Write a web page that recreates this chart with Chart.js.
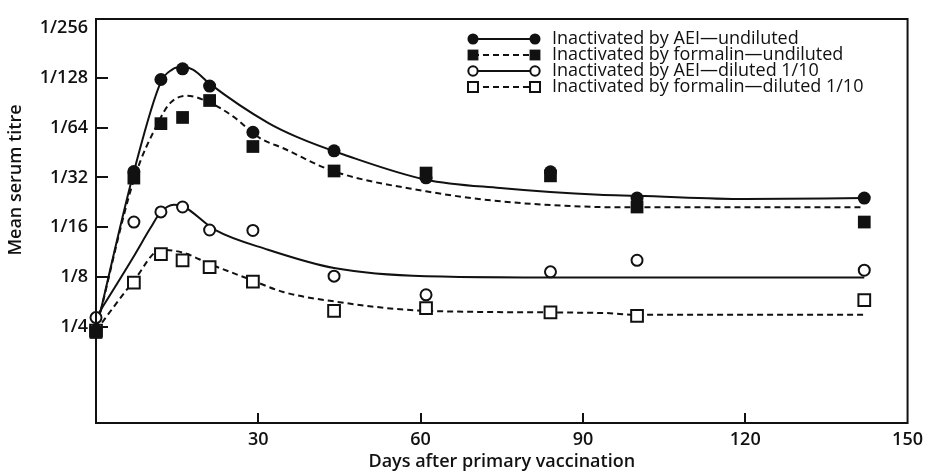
<!DOCTYPE html>
<html>
<head>
<meta charset="utf-8">
<title>Mean serum titre after primary vaccination</title>
<script src="https://cdn.jsdelivr.net/npm/chart.js@4.4.1/dist/chart.umd.min.js"></script>
<style>
  html, body { margin: 0; padding: 0; background: #fff; }
  #chart { display: block; }
</style>
</head>
<body>
<canvas id="chart" width="929" height="475"></canvas>
<script>
const days = [0, 7, 12, 16, 21, 29, 44, 61, 84, 100, 142];
const aeiUndiluted = [3.8, 34.7, 125, 145, 114, 60, 46.3, 31.8, 34.6, 24, 24];
const formalinUndiluted = [3.7, 31.7, 67.6, 73.7, 93.3, 49.2, 35, 34, 32.7, 21.2, 17.2];
const aeiDiluted = [4.55, 17.2, 19.8, 21.2, 15.4, 15.3, 8.1, 6.25, 8.6, 10.1, 8.8];
const formalinDiluted = [3.8, 7.4, 11, 10.1, 9.2, 7.5, 5.0, 5.2, 4.9, 4.66, 5.8];

// Hand-drawn trend curves of the original figure
const aeiUndilutedCurveDays = [0, 7, 12, 14, 16, 18, 21, 31.8, 37, 46, 61, 74.7, 93, 100, 120, 142];
const aeiUndilutedCurve = [3.8, 34.6, 121, 143, 149, 143, 118, 68.3, 56.4, 43.7, 31, 27.6, 25.1, 24.8, 23.7, 24];
const formalinUndilutedCurveDays = [0, 7, 11.6, 13.7, 16.8, 21, 25.4, 30.3, 34.6, 44, 61, 75, 93, 100, 142];
const formalinUndilutedCurve = [3.8, 31, 69.7, 90, 99.7, 90.7, 74.5, 55.3, 48, 34.8, 26.4, 22.9, 21.2, 21.1, 21.1];
const aeiDilutedCurveDays = [0, 7, 10, 12, 14.4, 16, 22, 31.8, 44, 61, 94, 120, 142];
const aeiDilutedCurve = [4.55, 10.7, 15.7, 19.8, 21.9, 21.5, 15.4, 11.7, 9.07, 8.1, 7.94, 7.95, 7.95];
const formalinDilutedCurveDays = [0, 7, 12, 16.2, 21, 28.2, 34.6, 44, 61, 94, 100, 142];
const formalinDilutedCurve = [3.8, 7.6, 11.7, 11.2, 9.6, 7.8, 6.5, 5.7, 5.0, 4.85, 4.73, 4.73];

// Axis ticks
const titreTicks = [4, 8, 16, 32, 64, 128, 256];
const titreLabels = ['1/4', '1/8', '1/16', '1/32', '1/64', '1/128', '1/256'];
const dayTicks = [30, 60, 90, 120, 150];

const legendLabels = [
    'Inactivated by AEI\u2014undiluted',
    'Inactivated by formalin\u2014undiluted',
    'Inactivated by AEI\u2014diluted 1/10',
    'Inactivated by formalin\u2014diluted 1/10'
];

const ink = '#111';
const fontFamily = '"Open Sans", "DejaVu Sans", sans-serif';

// marker and line style per series (same order as legendLabels)
const seriesStyles = [
    { pointStyle: 'circle', radius: 6.5, fill: ink, border: 0, dash: [] },
    { pointStyle: 'rect', radius: 9, fill: ink, border: 0, dash: [6, 4] },
    { pointStyle: 'circle', radius: 5.5, fill: '#fff', border: 2, dash: [] },
    { pointStyle: 'rect', radius: 8.3, fill: '#fff', border: 2, dash: [6, 4] }
];

function toXY(xs, ys) {
    return xs.map((x, i) => ({ x: x, y: ys[i] }));
}

function pointSet(values, style) {
    return {
        data: toXY(days, values),
        showLine: false,
        pointStyle: style.pointStyle,
        pointRadius: style.radius,
        pointBackgroundColor: style.fill,
        pointBorderColor: ink,
        pointBorderWidth: style.border,
        order: 0,
        clip: false
    };
}

function curveSet(xs, ys, style) {
    return {
        data: toXY(xs, ys),
        showLine: true,
        borderColor: ink,
        borderWidth: 2,
        borderDash: style.dash,
        pointRadius: 0,
        cubicInterpolationMode: 'monotone',
        order: 1,
        clip: false
    };
}

// Frame, inward tick marks, rotated y title and the symbol key
const decorations = {
    id: 'decorations',
    afterDraw(chart) {
        const ctx = chart.ctx;
        const area = chart.chartArea;
        const xs = chart.scales.x;
        const ys = chart.scales.y;
        ctx.save();
        ctx.strokeStyle = ink;
        ctx.lineWidth = 2;
        ctx.setLineDash([]);
        ctx.strokeRect(area.left, area.top, area.right - area.left, area.bottom - area.top);

        // inward ticks
        ctx.beginPath();
        titreTicks.slice(0, -1).forEach(v => {
            const y = Math.round(ys.getPixelForValue(v));
            ctx.moveTo(area.left, y);
            ctx.lineTo(area.left + 12, y);
        });
        dayTicks.slice(0, -1).forEach(v => {
            const x = Math.round(xs.getPixelForValue(v));
            ctx.moveTo(x, area.bottom);
            ctx.lineTo(x, area.bottom - 10);
        });
        ctx.stroke();

        // y axis title
        ctx.save();
        ctx.translate(16, 180);
        ctx.rotate(-Math.PI / 2);
        ctx.fillStyle = ink;
        ctx.font = '600 18px ' + fontFamily;
        ctx.textAlign = 'center';
        ctx.textBaseline = 'middle';
        ctx.fillText('Mean serum titre', 0, 0);
        ctx.restore();

        // key
        ctx.font = '500 18px ' + fontFamily;
        ctx.textAlign = 'left';
        ctx.textBaseline = 'middle';
        legendLabels.forEach((label, i) => {
            const s = seriesStyles[i];
            const y = 39 + i * 16;
            ctx.strokeStyle = ink;
            ctx.lineWidth = 2;
            ctx.setLineDash(s.dash);
            ctx.beginPath();
            ctx.moveTo(473, y);
            ctx.lineTo(535, y);
            ctx.stroke();
            ctx.setLineDash([]);
            const opts = {
                pointStyle: s.pointStyle,
                radius: s.radius * 0.85,
                borderWidth: s.border,
                rotation: 0
            };
            [473, 535].forEach(px => {
                ctx.fillStyle = s.fill;
                ctx.strokeStyle = ink;
                ctx.lineWidth = s.border;
                Chart.helpers.drawPoint(ctx, opts, px, y);
            });
            ctx.fillStyle = ink;
            ctx.fillText(label, 552, y);
        });
        ctx.restore();
    }
};

new Chart(document.getElementById('chart'), {
    type: 'scatter',
    data: {
        datasets: [
            pointSet(aeiUndiluted, seriesStyles[0]),
            pointSet(formalinUndiluted, seriesStyles[1]),
            pointSet(aeiDiluted, seriesStyles[2]),
            pointSet(formalinDiluted, seriesStyles[3]),
            curveSet(aeiUndilutedCurveDays, aeiUndilutedCurve, seriesStyles[0]),
            curveSet(formalinUndilutedCurveDays, formalinUndilutedCurve, seriesStyles[1]),
            curveSet(aeiDilutedCurveDays, aeiDilutedCurve, seriesStyles[2]),
            curveSet(formalinDilutedCurveDays, formalinDilutedCurve, seriesStyles[3])
        ]
    },
    options: {
        responsive: false,
        animation: false,
        devicePixelRatio: 1,
        layout: { padding: { top: 19, right: 19, left: 0, bottom: 0 } },
        plugins: {
            legend: { display: false },
            tooltip: { enabled: false }
        },
        scales: {
            x: {
                type: 'linear',
                min: 0,
                max: 150,
                afterBuildTicks: scale => {
                    scale.ticks = dayTicks.map(v => ({ value: v }));
                },
                afterFit: scale => {
                    scale.height = 52;
                },
                ticks: {
                    color: ink,
                    padding: 6,
                    maxRotation: 0,
                    autoSkip: false,
                    font: { family: fontFamily, size: 18, weight: '600' }
                },
                grid: { display: false, drawTicks: false },
                border: { display: false },
                title: {
                    display: true,
                    text: 'Days after primary vaccination',
                    color: ink,
                    padding: { top: 0, bottom: 2 },
                    font: { family: fontFamily, size: 18, weight: '600' }
                }
            },
            y: {
                type: 'logarithmic',
                min: 1.05,
                max: 290,
                afterBuildTicks: scale => {
                    scale.ticks = titreTicks.map(v => ({ value: v }));
                },
                afterFit: scale => {
                    scale.width = 96;
                },
                ticks: {
                    color: ink,
                    padding: 8,
                    autoSkip: false,
                    callback: v => titreLabels[titreTicks.indexOf(v)],
                    font: { family: fontFamily, size: 18, weight: '600' }
                },
                grid: { display: false, drawTicks: false },
                border: { display: false }
            }
        }
    },
    plugins: [decorations]
});
</script>
</body>
</html>
